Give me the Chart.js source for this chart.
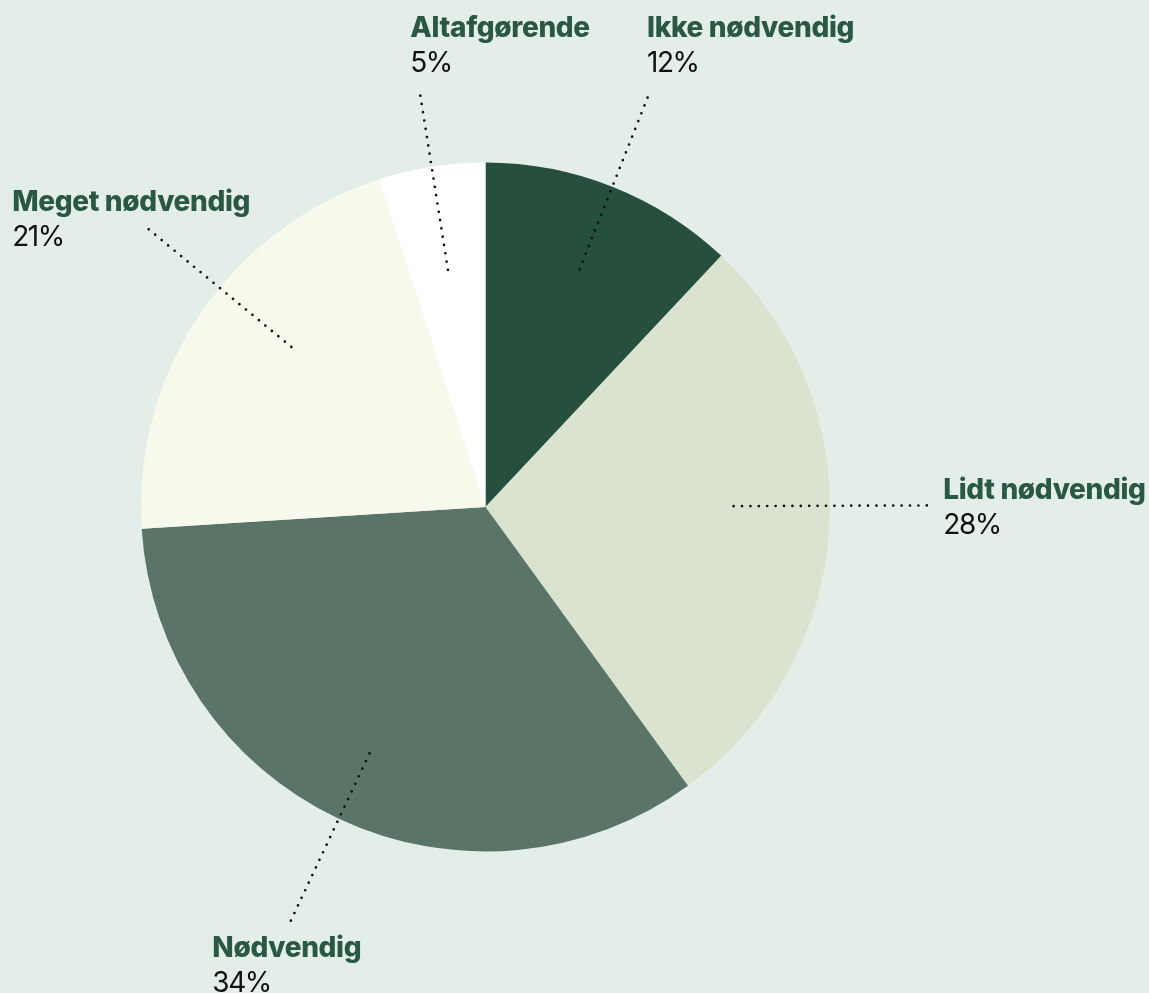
<!DOCTYPE html>
<html>
<head>
<meta charset="utf-8">
<script src="https://cdn.jsdelivr.net/npm/chart.js@4"></script>
<style>
  html, body { margin: 0; padding: 0; background: #e4eee8; }
  #wrap { width: 1149px; height: 993px; position: relative; }
</style>
</head>
<body>
<div id="wrap"><canvas id="c" width="1149" height="993"></canvas></div>
<script>
const categories = ["Ikke nødvendig", "Lidt nødvendig", "Nødvendig", "Meget nødvendig", "Altafgørende"];
const shares = [12, 28, 34, 21, 5];
const sliceColors = ["#274f3e", "#d9e3cf", "#5a7567", "#f7f9ec", "#ffffff"];

// leader / label layout per slice (angle offset in degrees, radii as fraction of pie radius, label offset from leader end)
const leaderLayout = [
  { angleOff: 0,    rIn: 0.729, rOut: 1.278, dx: -0.5,  dy: -60.3 },
  { angleOff: -3.8, rIn: 0.719, rOut: 1.281, dx: 16.5,  dy: -6.7 },
  { angleOff: 0,    rIn: 0.778, rOut: 1.327, dx: -78.5, dy: 36 },
  { angleOff: 5.3,  rIn: 0.716, rOut: 1.267, dx: -136.5, dy: -18.3 },
  { angleOff: 0,    rIn: 0.690, rOut: 1.209, dx: -10,   dy: -58.6 }
];

const labelPlugin = {
  id: 'leaderLabels',
  afterDraw(chart) {
    const ctx = chart.ctx;
    const meta = chart.getDatasetMeta(0);
    meta.data.forEach((arc, i) => {
      const p = arc.getProps(['x', 'y', 'startAngle', 'endAngle', 'outerRadius'], true);
      const L = leaderLayout[i];
      const a = (p.startAngle + p.endAngle) / 2 + L.angleOff * Math.PI / 180;
      const x1 = p.x + Math.cos(a) * p.outerRadius * L.rIn;
      const y1 = p.y + Math.sin(a) * p.outerRadius * L.rIn;
      const x2 = p.x + Math.cos(a) * p.outerRadius * L.rOut;
      const y2 = p.y + Math.sin(a) * p.outerRadius * L.rOut;
      ctx.save();
      ctx.strokeStyle = '#111111';
      ctx.lineWidth = 2.7;
      ctx.lineCap = 'round';
      ctx.setLineDash([0, 8.4]);
      ctx.beginPath();
      ctx.moveTo(x2, y2);
      ctx.lineTo(x1, y1);
      ctx.stroke();
      ctx.setLineDash([]);
      const lx = x2 + L.dx;
      const ly = y2 + L.dy;
      ctx.textAlign = 'left';
      ctx.textBaseline = 'alphabetic';
      ctx.fillStyle = '#2a5843';
      ctx.font = '800 28px Inter';
      ctx.letterSpacing = '-0.35px';
      ctx.fillText(chart.data.labels[i], lx, ly);
      ctx.fillStyle = '#111111';
      ctx.font = '400 28px Inter';
      ctx.letterSpacing = '-1.5px';
      ctx.fillText(chart.data.datasets[0].data[i] + '%', lx, ly + 35);
      ctx.restore();
    });
  }
};

new Chart(document.getElementById('c'), {
  type: 'pie',
  data: {
    labels: categories,
    datasets: [{
      data: shares,
      backgroundColor: sliceColors,
      borderWidth: 0
    }]
  },
  options: {
    responsive: false,
    animation: false,
    layout: { padding: { left: 141, right: 319, top: 162, bottom: 141 } },
    plugins: {
      legend: { display: false },
      tooltip: { enabled: false }
    }
  },
  plugins: [labelPlugin]
});
</script>
</body>
</html>
